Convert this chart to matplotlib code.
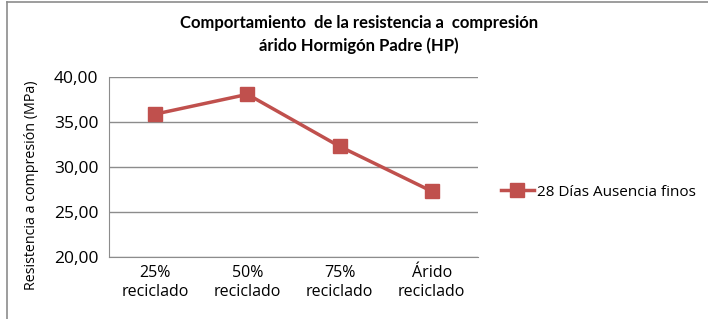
import matplotlib
matplotlib.use("Agg")
import matplotlib.pyplot as plt
from matplotlib.lines import Line2D

categories = ["25%\nreciclado", "50%\nreciclado", "75%\nreciclado", "Árido\nreciclado"]
values = [35.9, 38.1, 32.3, 27.3]
series_name = "28 Días Ausencia finos"
yticks = [20, 25, 30, 35, 40]
ytick_labels = ["20,00", "25,00", "30,00", "35,00", "40,00"]

color = "#C0504D"
plt.rcParams['font.family'] = ['Open Sans', 'DejaVu Sans']

fig = plt.figure(figsize=(7.08, 3.19), dpi=100)
ax = fig.add_axes([0.1544, 0.1953, 0.5203, 0.5624])

x = list(range(len(categories)))
ax.plot(x, values, color=color, lw=2.5, marker='s', ms=10, label=series_name)
ax.set_xlim(-0.5, len(categories) - 0.5)
ax.set_ylim(20, 40)
ax.set_yticks(yticks)
ax.set_yticklabels(ytick_labels, fontsize=12.5)
ax.set_xticks(x)
ax.set_xticklabels(categories, fontsize=11.5, linespacing=1.25)
ax.tick_params(length=0)
ax.tick_params(axis='y', pad=8)
ax.tick_params(axis='x', pad=6)
ax.grid(axis='y', color='#8c8c8c', lw=1)
ax.set_axisbelow(True)
for s in ['top', 'right']:
    ax.spines[s].set_visible(False)
for s in ['left', 'bottom']:
    ax.spines[s].set_color('#8c8c8c')
ax.set_ylabel("Resistencia a compresión (MPa)", fontsize=10.3)
ax.yaxis.set_label_coords(-0.19, 0.40)

fig.text(0.507, 0.892, "Comportamiento  de la resistencia a  compresión\nárido Hormigón Padre (HP)",
         ha='center', va='center', fontsize=12, fontweight='bold', linespacing=1.45,
         family=['Lato', 'DejaVu Sans'])

ax.legend(loc='center left', bbox_to_anchor=(1.025, 0.36), frameon=False, fontsize=11,
          handlelength=2.2, handletextpad=0.2)

fig.add_artist(Line2D([0.0099, 0.0099], [0, 0.995], transform=fig.transFigure, color='#8c8c8c', lw=1.2))
fig.add_artist(Line2D([0.0099, 1.0], [0.995, 0.995], transform=fig.transFigure, color='#8c8c8c', lw=1.2))
fig.savefig("out.png", dpi=100)
